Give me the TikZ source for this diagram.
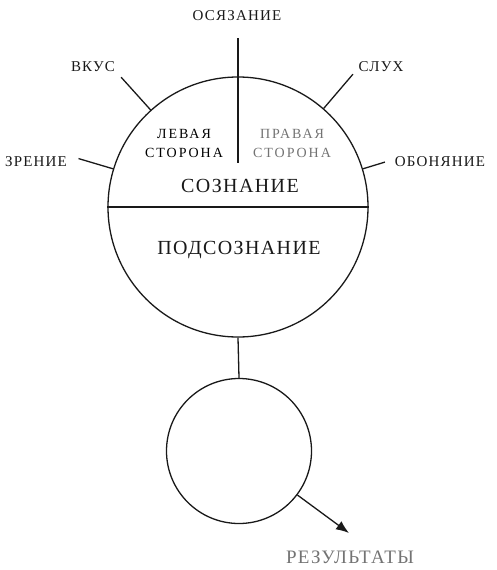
\documentclass[tikz,border=0pt]{standalone}
\usepackage{fontspec}
\setmainfont{Liberation Serif}
\newfontfamily\rufont{Liberation Serif}
\usetikzlibrary{arrows.meta}
\definecolor{txtgray}{gray}{0.45}
\tikzset{
  ln/.style={line width=1.3pt, draw=black!90},
  lbl/.style={font=\rufont\fontsize{15}{17}\selectfont\addfontfeature{LetterSpace=8}, inner sep=0pt, text=black!90},
  side/.style={font=\rufont\fontsize{14}{19}\selectfont\addfontfeature{LetterSpace=14}, inner sep=0pt, align=center},
  big/.style={font=\rufont\fontsize{20}{22}\selectfont\addfontfeature{LetterSpace=7}, inner sep=0pt, text=black!90},
}
\begin{document}
\begin{tikzpicture}[x=1pt,y=-1pt]
\useasboundingbox (0,0) rectangle (496,570);
\node[ln, draw, circle, minimum size=260pt, inner sep=0pt] (bigc) at (238,207) {};
\node[ln, draw, circle, minimum size=145pt, inner sep=0pt] (smallc) at (239,451) {};
\draw[ln] (bigc.west) -- (bigc.east);
\coordinate (top) at (238,38);
\coordinate (mid) at (238,163);
\draw[ln] (top) -- (mid);
\draw[ln] (bigc.south) -- (smallc.north);
\coordinate (arrend) at (349,533);
\draw[ln, -{Latex[length=13pt,width=10pt]}] (smallc.-37) -- (arrend);
% ticks
\draw[ln] (bigc.132) -- ++(-132:44) coordinate (tv);
\draw[ln] (bigc.49.5) -- ++(-49.5:45) coordinate (ts);
\draw[ln] (bigc.163.5) -- ++(-163.5:36) coordinate (tz);
\draw[ln] (bigc.17) -- ++(-17:23) coordinate (to);
% labels
\node[lbl] (osz) at (237,16) {ОСЯЗАНИЕ};
\node[lbl] (vkus) at (93,67) {ВКУС};
\node[lbl] (sluh) at (381,67) {СЛУХ};
\node[lbl] (zr) at (36,162) {ЗРЕНИЕ};
\node[lbl] (obo) at (440,162) {ОБОНЯНИЕ};
\node[side] (lev) at (184,143) {ЛЕВАЯ\\СТОРОНА};
\node[side, text=txtgray] (prav) at (292,143) {ПРАВАЯ\\СТОРОНА};
\node[big] (soz) at (240,186) {СОЗНАНИЕ};
\node[big] (podsoz) at (239,250) {ПОДСОЗНАНИЕ};
\node[big, text=txtgray, font=\rufont\fontsize{19}{21}\selectfont\addfontfeature{LetterSpace=7}] (res) at (350,557) {РЕЗУЛЬТАТЫ};
\end{tikzpicture}
\end{document}
